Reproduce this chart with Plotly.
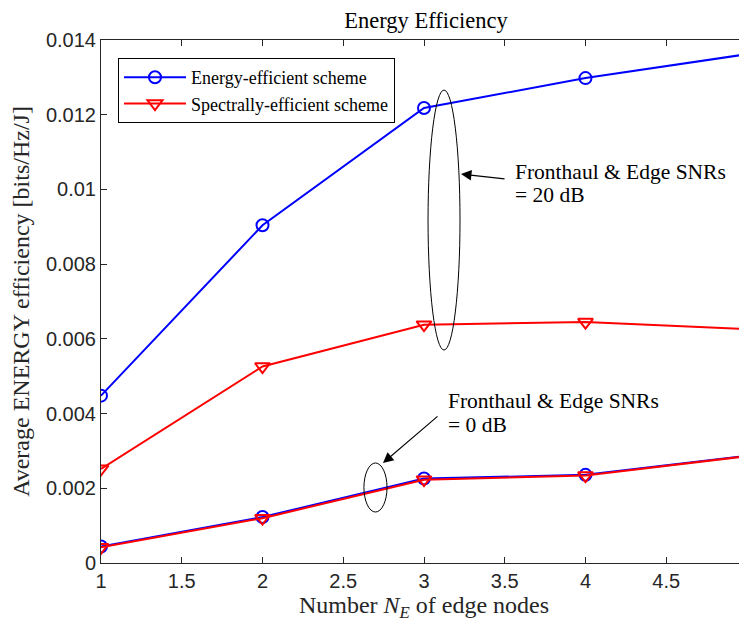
import plotly.graph_objects as go

x_nodes = [1, 2, 3, 4, 5]
ee_20db = [0.00448, 0.00904, 0.01218, 0.01298, 0.01362]
se_20db = [0.00252, 0.00526, 0.00638, 0.00645, 0.00626]
ee_0db = [0.00044, 0.00123, 0.00226, 0.00236, 0.00287]
se_0db = [0.00042, 0.00120, 0.00223, 0.00234, 0.00286]

x_ticks = [1, 1.5, 2, 2.5, 3, 3.5, 4, 4.5, 5]
x_ticktext = ["1", "1.5", "2", "2.5", "3", "3.5", "4", "4.5", "5"]
y_ticks = [0, 0.002, 0.004, 0.006, 0.008, 0.01, 0.012, 0.014]
y_ticktext = ["0", "0.002", "0.004", "0.006", "0.008", "0.01", "0.012", "0.014"]

SERIF = "Liberation Serif"
SANS = "Liberation Sans"
AX = "#262626"

fig = go.Figure()
fig.add_trace(go.Scatter(x=x_nodes, y=ee_20db, mode="lines+markers", name="Energy-efficient scheme",
                         line=dict(color="#0000ff", width=2),
                         marker=dict(symbol="circle-open", size=12, color="#0000ff", line=dict(width=2))))
fig.add_trace(go.Scatter(x=x_nodes, y=se_20db, mode="lines+markers", name="Spectrally-efficient scheme",
                         line=dict(color="#ff0000", width=2),
                         marker=dict(symbol="triangle-down-open", size=13, color="#ff0000", line=dict(width=2))))
fig.add_trace(go.Scatter(x=x_nodes, y=ee_0db, mode="lines+markers", showlegend=False,
                         line=dict(color="#0000ff", width=2),
                         marker=dict(symbol="circle-open", size=12, color="#0000ff", line=dict(width=2))))
fig.add_trace(go.Scatter(x=x_nodes, y=se_0db, mode="lines+markers", showlegend=False,
                         line=dict(color="#ff0000", width=2),
                         marker=dict(symbol="triangle-down-open", size=13, color="#ff0000", line=dict(width=2))))

# ellipses
fig.add_shape(type="circle", xref="x", yref="y", x0=3.025, x1=3.223, y0=0.0057, y1=0.01266,
              line=dict(color="black", width=1))
fig.add_shape(type="circle", xref="x", yref="y", x0=2.628, x1=2.771, y0=0.001365, y1=0.002677,
              line=dict(color="black", width=1))

# arrows
fig.add_annotation(x=3.229, y=0.010412, ax=3.508, ay=0.010278, xref="x", yref="y", axref="x", ayref="y",
                   text="", showarrow=True, arrowhead=2, arrowsize=1.9, arrowwidth=1.1, arrowcolor="black")
fig.add_annotation(x=2.746, y=0.002677, ax=3.093, ay=0.003961, xref="x", yref="y", axref="x", ayref="y",
                   text="", showarrow=True, arrowhead=2, arrowsize=1.9, arrowwidth=1.1, arrowcolor="black")

ann_font = dict(family=SERIF, size=21.5, color="black")
for xx, yy, txt in [(3.551, 0.010466, "Fronthaul &amp; Edge SNRs"), (3.551, 0.00985, "= 20 dB"),
                    (3.136, 0.004344, "Fronthaul &amp; Edge SNRs"), (3.136, 0.003694, "= 0 dB")]:
    fig.add_annotation(x=xx, y=yy, xref="x", yref="y", xanchor="left", yanchor="middle",
                       text=txt, showarrow=False, align="left", font=ann_font)

fig.update_layout(
    width=747, height=625,
    margin=dict(l=93, r=8, t=32, b=70),
    paper_bgcolor="white", plot_bgcolor="white",
    title=dict(text="Energy Efficiency", x=418 / 747, xanchor="center", y=1 - 12 / 625, yanchor="middle",
               font=dict(family=SERIF, size=22.5, color="black")),
    legend=dict(x=0.0263, y=0.9656, xanchor="left", yanchor="top", bgcolor="white",
                bordercolor="black", borderwidth=1, font=dict(family=SERIF, size=18, color="black"),
                tracegroupgap=0, itemwidth=62),
    showlegend=True,
)
fig.update_xaxes(range=[1, 5], tickvals=x_ticks, ticktext=x_ticktext, ticks="inside", ticklen=6,
                 tickcolor=AX, showline=True, linecolor=AX, linewidth=1, mirror="ticks", showgrid=False,
                 zeroline=False, automargin=False, ticklabeloverflow="allow",
                 tickfont=dict(family=SANS, size=20, color=AX),
                 title=dict(text="Number <i>N</i><sub><i>E</i></sub> of edge nodes",
                            font=dict(family=SERIF, size=24, color=AX), standoff=2))
fig.update_yaxes(range=[0, 0.014], tickvals=y_ticks, ticktext=y_ticktext, ticks="inside", ticklen=6,
                 tickcolor=AX, showline=True, linecolor=AX, linewidth=1, mirror="ticks", showgrid=False,
                 zeroline=False, automargin=False, tickfont=dict(family=SANS, size=20, color=AX),
                 title=dict(text="Average ENERGY efficiency [bits/Hz/J]",
                            font=dict(family=SERIF, size=24, color=AX), standoff=14))

fig.write_html("out.html")
